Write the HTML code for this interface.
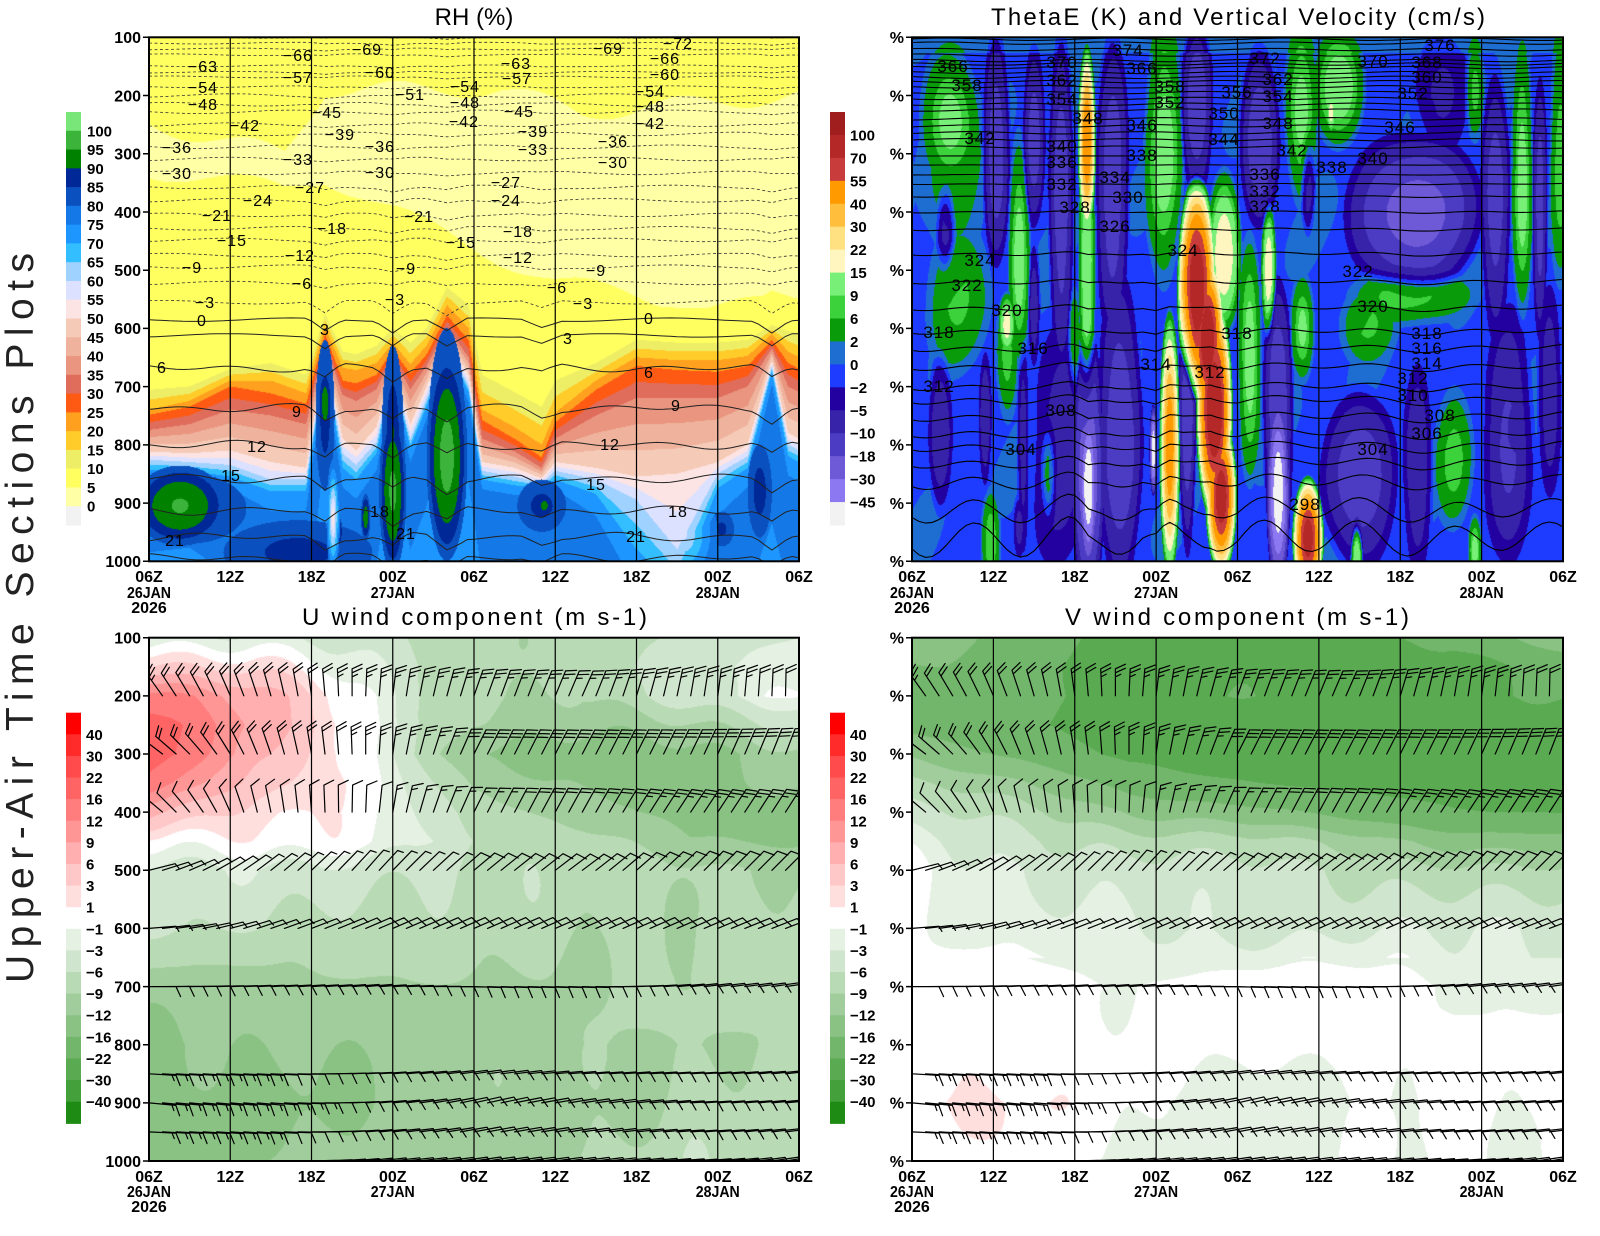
<!DOCTYPE html>
<html><head><meta charset="utf-8"><title>Upper-Air Time Sections Plots</title>
<style>
html,body{margin:0;padding:0;background:#fff;}
#wrap{position:relative;width:1600px;height:1236px;overflow:hidden;background:#fff;}
canvas{position:absolute;display:block;}
#ov{position:absolute;left:0;top:0;}
text{font-family:"Liberation Sans",Arial,sans-serif;fill:#000;}
.axe{font-weight:bold;font-size:16px;text-anchor:end;}
.axm{font-weight:bold;font-size:16px;text-anchor:middle;}
.cb{font-weight:bold;font-size:15px;}
.ttl{font-size:24px;text-anchor:middle;}
.lr{font-size:16px;letter-spacing:1px;text-anchor:middle;}
.lt{font-size:17px;letter-spacing:1px;text-anchor:middle;}
</style></head><body><div id="wrap">
<canvas id="c1" width="650" height="524" style="left:149px;top:37px;width:650px;height:524px"></canvas>
<canvas id="c2" width="651" height="524" style="left:912px;top:37px;width:651px;height:524px"></canvas>
<canvas id="c3" width="650" height="523" style="left:149px;top:638px;width:650px;height:523px"></canvas>
<canvas id="c4" width="651" height="523" style="left:912px;top:638px;width:651px;height:523px"></canvas>
<svg id="ov" width="1600" height="1236" viewBox="0 0 1600 1236" xmlns="http://www.w3.org/2000/svg">
<defs>
<clipPath id="k1"><rect x="149" y="37.3" width="650" height="524"/></clipPath>
<clipPath id="k2"><rect x="912" y="37.3" width="651" height="524"/></clipPath>
<clipPath id="k3"><rect x="149" y="637.7" width="650" height="523.3"/></clipPath>
<clipPath id="k4"><rect x="912" y="637.7" width="651" height="523.3"/></clipPath>
</defs>
<g id="gfx"></g>
<g id="txt">
<text transform="translate(33,983) rotate(-90)" font-size="39" textLength="730" lengthAdjust="spacing" style="fill:#222">Upper-Air Time Sections Plots</text>
<text class="ttl" x="474" y="25">RH (%)</text>
<text class="ttl" x="1238" y="25" textLength="494" lengthAdjust="spacing">ThetaE (K) and Vertical Velocity (cm/s)</text>
<text class="ttl" x="474.5" y="625" textLength="345" lengthAdjust="spacing">U wind component (m s-1)</text>
<text class="ttl" x="1237" y="625" textLength="344" lengthAdjust="spacing">V wind component (m s-1)</text>

<text class="axe" x="141" y="43.1">100</text><text class="axe" x="141" y="101.3">200</text><text class="axe" x="141" y="159.5">300</text><text class="axe" x="141" y="217.8">400</text><text class="axe" x="141" y="276">500</text><text class="axe" x="141" y="334.2">600</text><text class="axe" x="141" y="392.4">700</text><text class="axe" x="141" y="450.6">800</text><text class="axe" x="141" y="508.9">900</text><text class="axe" x="141" y="567.1">1000</text>
<text class="axe" x="141" y="643.5">100</text><text class="axe" x="141" y="701.6">200</text><text class="axe" x="141" y="759.6">300</text><text class="axe" x="141" y="817.8">400</text><text class="axe" x="141" y="876">500</text><text class="axe" x="141" y="934.2">600</text><text class="axe" x="141" y="992.3">700</text><text class="axe" x="141" y="1050.4">800</text><text class="axe" x="141" y="1108.6">900</text><text class="axe" x="141" y="1166.8">1000</text>
<text class="axe" x="904" y="43.1">%</text><text class="axe" x="904" y="101.3">%</text><text class="axe" x="904" y="159.5">%</text><text class="axe" x="904" y="217.8">%</text><text class="axe" x="904" y="276">%</text><text class="axe" x="904" y="334.2">%</text><text class="axe" x="904" y="392.4">%</text><text class="axe" x="904" y="450.6">%</text><text class="axe" x="904" y="508.9">%</text><text class="axe" x="904" y="567.1">%</text>
<text class="axe" x="904" y="643.5">%</text><text class="axe" x="904" y="701.6">%</text><text class="axe" x="904" y="759.6">%</text><text class="axe" x="904" y="817.8">%</text><text class="axe" x="904" y="876">%</text><text class="axe" x="904" y="934.2">%</text><text class="axe" x="904" y="992.3">%</text><text class="axe" x="904" y="1050.4">%</text><text class="axe" x="904" y="1108.6">%</text><text class="axe" x="904" y="1166.8">%</text>

<text class="axm" x="149" y="582">06Z</text><text class="axm" x="230.25" y="582">12Z</text><text class="axm" x="311.5" y="582">18Z</text><text class="axm" x="392.75" y="582">00Z</text><text class="axm" x="474" y="582">06Z</text><text class="axm" x="555.25" y="582">12Z</text><text class="axm" x="636.5" y="582">18Z</text><text class="axm" x="717.75" y="582">00Z</text><text class="axm" x="799" y="582">06Z</text>
<text class="axm" x="149" y="598" textLength="44" lengthAdjust="spacingAndGlyphs">26JAN</text><text class="axm" x="392.75" y="598" textLength="44" lengthAdjust="spacingAndGlyphs">27JAN</text><text class="axm" x="717.75" y="598" textLength="44" lengthAdjust="spacingAndGlyphs">28JAN</text><text class="axm" x="149" y="613">2026</text>
<text class="axm" x="912" y="582">06Z</text><text class="axm" x="993.4" y="582">12Z</text><text class="axm" x="1074.75" y="582">18Z</text><text class="axm" x="1156.1" y="582">00Z</text><text class="axm" x="1237.5" y="582">06Z</text><text class="axm" x="1318.9" y="582">12Z</text><text class="axm" x="1400.25" y="582">18Z</text><text class="axm" x="1481.6" y="582">00Z</text><text class="axm" x="1563" y="582">06Z</text>
<text class="axm" x="912" y="598" textLength="44" lengthAdjust="spacingAndGlyphs">26JAN</text><text class="axm" x="1156.1" y="598" textLength="44" lengthAdjust="spacingAndGlyphs">27JAN</text><text class="axm" x="1481.6" y="598" textLength="44" lengthAdjust="spacingAndGlyphs">28JAN</text><text class="axm" x="912" y="613">2026</text>
<text class="axm" x="149" y="1182">06Z</text><text class="axm" x="230.25" y="1182">12Z</text><text class="axm" x="311.5" y="1182">18Z</text><text class="axm" x="392.75" y="1182">00Z</text><text class="axm" x="474" y="1182">06Z</text><text class="axm" x="555.25" y="1182">12Z</text><text class="axm" x="636.5" y="1182">18Z</text><text class="axm" x="717.75" y="1182">00Z</text><text class="axm" x="799" y="1182">06Z</text>
<text class="axm" x="149" y="1197" textLength="44" lengthAdjust="spacingAndGlyphs">26JAN</text><text class="axm" x="392.75" y="1197" textLength="44" lengthAdjust="spacingAndGlyphs">27JAN</text><text class="axm" x="717.75" y="1197" textLength="44" lengthAdjust="spacingAndGlyphs">28JAN</text><text class="axm" x="149" y="1212">2026</text>
<text class="axm" x="912" y="1182">06Z</text><text class="axm" x="993.4" y="1182">12Z</text><text class="axm" x="1074.75" y="1182">18Z</text><text class="axm" x="1156.1" y="1182">00Z</text><text class="axm" x="1237.5" y="1182">06Z</text><text class="axm" x="1318.9" y="1182">12Z</text><text class="axm" x="1400.25" y="1182">18Z</text><text class="axm" x="1481.6" y="1182">00Z</text><text class="axm" x="1563" y="1182">06Z</text>
<text class="axm" x="912" y="1197" textLength="44" lengthAdjust="spacingAndGlyphs">26JAN</text><text class="axm" x="1156.1" y="1197" textLength="44" lengthAdjust="spacingAndGlyphs">27JAN</text><text class="axm" x="1481.6" y="1197" textLength="44" lengthAdjust="spacingAndGlyphs">28JAN</text><text class="axm" x="912" y="1212">2026</text>

<text class="cb" x="87" y="136.3">100</text><text class="cb" x="87" y="155">95</text><text class="cb" x="87" y="173.8">90</text><text class="cb" x="87" y="192.6">85</text><text class="cb" x="87" y="211.4">80</text><text class="cb" x="87" y="230.1">75</text><text class="cb" x="87" y="248.9">70</text><text class="cb" x="87" y="267.7">65</text><text class="cb" x="87" y="286.5">60</text><text class="cb" x="87" y="305.2">55</text><text class="cb" x="87" y="324">50</text><text class="cb" x="87" y="342.8">45</text><text class="cb" x="87" y="361.5">40</text><text class="cb" x="87" y="380.3">35</text><text class="cb" x="87" y="399.1">30</text><text class="cb" x="87" y="417.9">25</text><text class="cb" x="87" y="436.6">20</text><text class="cb" x="87" y="455.4">15</text><text class="cb" x="87" y="474.2">10</text><text class="cb" x="87" y="493">5</text><text class="cb" x="87" y="511.7">0</text>
<text class="cb" x="850" y="140.4">100</text><text class="cb" x="850" y="163.4">70</text><text class="cb" x="850" y="186.3">55</text><text class="cb" x="850" y="209.3">40</text><text class="cb" x="850" y="232.2">30</text><text class="cb" x="850" y="255.2">22</text><text class="cb" x="850" y="278.1">15</text><text class="cb" x="850" y="301.1">9</text><text class="cb" x="850" y="324">6</text><text class="cb" x="850" y="346.9">2</text><text class="cb" x="850" y="369.9">0</text><text class="cb" x="850" y="392.8">−2</text><text class="cb" x="850" y="415.8">−5</text><text class="cb" x="850" y="438.7">−10</text><text class="cb" x="850" y="461.7">−18</text><text class="cb" x="850" y="484.6">−30</text><text class="cb" x="850" y="507.6">−45</text>
<text class="cb" x="86" y="739.8">40</text><text class="cb" x="86" y="761.4">30</text><text class="cb" x="86" y="783">22</text><text class="cb" x="86" y="804.6">16</text><text class="cb" x="86" y="826.3">12</text><text class="cb" x="86" y="847.9">9</text><text class="cb" x="86" y="869.5">6</text><text class="cb" x="86" y="891.1">3</text><text class="cb" x="86" y="912.7">1</text><text class="cb" x="86" y="934.3">−1</text><text class="cb" x="86" y="955.9">−3</text><text class="cb" x="86" y="977.5">−6</text><text class="cb" x="86" y="999.1">−9</text><text class="cb" x="86" y="1020.7">−12</text><text class="cb" x="86" y="1042.4">−16</text><text class="cb" x="86" y="1064">−22</text><text class="cb" x="86" y="1085.6">−30</text><text class="cb" x="86" y="1107.2">−40</text>
<text class="cb" x="850" y="739.8">40</text><text class="cb" x="850" y="761.4">30</text><text class="cb" x="850" y="783">22</text><text class="cb" x="850" y="804.6">16</text><text class="cb" x="850" y="826.3">12</text><text class="cb" x="850" y="847.9">9</text><text class="cb" x="850" y="869.5">6</text><text class="cb" x="850" y="891.1">3</text><text class="cb" x="850" y="912.7">1</text><text class="cb" x="850" y="934.3">−1</text><text class="cb" x="850" y="955.9">−3</text><text class="cb" x="850" y="977.5">−6</text><text class="cb" x="850" y="999.1">−9</text><text class="cb" x="850" y="1020.7">−12</text><text class="cb" x="850" y="1042.4">−16</text><text class="cb" x="850" y="1064">−22</text><text class="cb" x="850" y="1085.6">−30</text><text class="cb" x="850" y="1107.2">−40</text>

<text class="lr" x="203" y="72">−63</text><text class="lr" x="203" y="93">−54</text><text class="lr" x="203" y="110">−48</text><text class="lr" x="245" y="131">−42</text><text class="lr" x="298" y="61">−66</text><text class="lr" x="298" y="83">−57</text><text class="lr" x="327" y="118">−45</text><text class="lr" x="340" y="140">−39</text><text class="lr" x="367" y="55">−69</text><text class="lr" x="380" y="78">−60</text><text class="lr" x="177" y="153">−36</text><text class="lr" x="177" y="179">−30</text><text class="lr" x="298" y="165">−33</text><text class="lr" x="380" y="152">−36</text><text class="lr" x="380" y="178">−30</text><text class="lr" x="310" y="193">−27</text><text class="lr" x="258" y="206">−24</text><text class="lr" x="217" y="221">−21</text><text class="lr" x="332" y="234">−18</text><text class="lr" x="232" y="246">−15</text><text class="lr" x="300" y="261">−12</text><text class="lr" x="192" y="273">−9</text><text class="lr" x="302" y="289">−6</text><text class="lr" x="205" y="308">−3</text><text class="lr" x="202" y="326">0</text><text class="lr" x="162" y="373">6</text><text class="lr" x="325" y="335">3</text><text class="lr" x="297" y="417">9</text><text class="lr" x="257" y="452">12</text><text class="lr" x="231" y="481">15</text><text class="lr" x="380" y="517">18</text><text class="lr" x="175" y="546">21</text><text class="lr" x="406" y="539">21</text><text class="lr" x="395" y="305">−3</text><text class="lr" x="583" y="309">−3</text><text class="lr" x="649" y="324">0</text><text class="lr" x="568" y="344">3</text><text class="lr" x="649" y="378">6</text><text class="lr" x="676" y="411">9</text><text class="lr" x="610" y="450">12</text><text class="lr" x="596" y="490">15</text><text class="lr" x="678" y="517">18</text><text class="lr" x="636" y="542">21</text><text class="lr" x="406" y="274">−9</text><text class="lr" x="419" y="222">−21</text><text class="lr" x="410" y="100">−51</text><text class="lr" x="465" y="92">−54</text><text class="lr" x="465" y="108">−48</text><text class="lr" x="464" y="127">−42</text><text class="lr" x="461" y="248">−15</text><text class="lr" x="516" y="69">−63</text><text class="lr" x="517" y="84">−57</text><text class="lr" x="519" y="117">−45</text><text class="lr" x="533" y="137">−39</text><text class="lr" x="533" y="155">−33</text><text class="lr" x="506" y="188">−27</text><text class="lr" x="506" y="206">−24</text><text class="lr" x="518" y="237">−18</text><text class="lr" x="518" y="263">−12</text><text class="lr" x="608" y="54">−69</text><text class="lr" x="678" y="49">−72</text><text class="lr" x="665" y="64">−66</text><text class="lr" x="665" y="80">−60</text><text class="lr" x="650" y="97">−54</text><text class="lr" x="650" y="112">−48</text><text class="lr" x="650" y="129">−42</text><text class="lr" x="613" y="147">−36</text><text class="lr" x="613" y="168">−30</text><text class="lr" x="596" y="276">−9</text><text class="lr" x="557" y="293">−6</text>

<text class="lt" x="953" y="72">366</text><text class="lt" x="967" y="91">358</text><text class="lt" x="980" y="144">342</text><text class="lt" x="1062" y="68">370</text><text class="lt" x="1062" y="86">362</text><text class="lt" x="1062" y="105">354</text><text class="lt" x="1062" y="152">340</text><text class="lt" x="1062" y="168">336</text><text class="lt" x="1062" y="190">332</text><text class="lt" x="1075" y="213">328</text><text class="lt" x="1088" y="124">348</text><text class="lt" x="1128" y="56">374</text><text class="lt" x="1142" y="74">366</text><text class="lt" x="1142" y="131">346</text><text class="lt" x="1142" y="161">338</text><text class="lt" x="1115" y="183">334</text><text class="lt" x="1128" y="203">330</text><text class="lt" x="1115" y="232">326</text><text class="lt" x="980" y="266">324</text><text class="lt" x="967" y="291">322</text><text class="lt" x="1007" y="316">320</text><text class="lt" x="1170" y="92">358</text><text class="lt" x="1170" y="108">352</text><text class="lt" x="1183" y="256">324</text><text class="lt" x="939" y="338">318</text><text class="lt" x="1033" y="354">316</text><text class="lt" x="1156" y="370">314</text><text class="lt" x="939" y="392">312</text><text class="lt" x="1061" y="416">308</text><text class="lt" x="1021" y="455">304</text><text class="lt" x="1265" y="64">372</text><text class="lt" x="1373" y="67">370</text><text class="lt" x="1440" y="51">376</text><text class="lt" x="1427" y="68">368</text><text class="lt" x="1427" y="83">360</text><text class="lt" x="1413" y="99">352</text><text class="lt" x="1278" y="85">362</text><text class="lt" x="1278" y="102">354</text><text class="lt" x="1237" y="98">356</text><text class="lt" x="1224" y="119">350</text><text class="lt" x="1278" y="129">348</text><text class="lt" x="1224" y="145">344</text><text class="lt" x="1400" y="133">346</text><text class="lt" x="1292" y="156">342</text><text class="lt" x="1373" y="164">340</text><text class="lt" x="1332" y="173">338</text><text class="lt" x="1265" y="180">336</text><text class="lt" x="1265" y="197">332</text><text class="lt" x="1265" y="212">328</text><text class="lt" x="1358" y="277">322</text><text class="lt" x="1373" y="312">320</text><text class="lt" x="1237" y="339">318</text><text class="lt" x="1427" y="339">318</text><text class="lt" x="1427" y="354">316</text><text class="lt" x="1427" y="369">314</text><text class="lt" x="1413" y="384">312</text><text class="lt" x="1413" y="401">310</text><text class="lt" x="1440" y="421">308</text><text class="lt" x="1427" y="439">306</text><text class="lt" x="1373" y="455">304</text><text class="lt" x="1210" y="378">312</text><text class="lt" x="1305" y="510">298</text>
</g>
</svg>
</div>
<script>
(function(){
var NS='http://www.w3.org/2000/svg';
var G=document.getElementById('gfx');
function el(tag,a,par){var e=document.createElementNS(NS,tag);for(var k in a)e.setAttribute(k,a[k]);(par||G).appendChild(e);return e;}
function interp1(xs,ys,x){var n=xs.length;if(x<=xs[0])return ys[0];if(x>=xs[n-1])return ys[n-1];var i=1;while(x>xs[i])i++;var f=(x-xs[i-1])/(xs[i]-xs[i-1]);return ys[i-1]+(ys[i]-ys[i-1])*f;}
function tri(t,c,w){return Math.max(0,1-Math.abs(t-c)/w);}
function hex(c){return [parseInt(c.slice(1,3),16),parseInt(c.slice(3,5),16),parseInt(c.slice(5,7),16)];}
function cmap(lv,cols){var cs=cols.map(hex);return function(v){var k=0;while(k<lv.length&&v>=lv[k])k++;return cs[k];};}
function paint(id,fn,cm){var cv=document.getElementById(id);var W=cv.width,H=cv.height;var ctx=cv.getContext('2d');var img=ctx.createImageData(W,H);var d=img.data;
 for(var j=0;j<H;j++){var p=100+(j+0.5)/H*900;for(var i=0;i<W;i++){var t=(i+0.5)/W*48;var c=cm(fn(t,p));var o=(j*W+i)*4;d[o]=c[0];d[o+1]=c[1];d[o+2]=c[2];d[o+3]=255;}}
 ctx.putImageData(img,0,0);}

/* ---------- colour tables ---------- */
var RHlv=[];for(var q=0;q<=20;q++)RHlv.push(q*5);
var RHc=['#f2f2f2','#ffffa5','#ffff60','#eeee66','#ffcc2a','#ffa01e','#ff5a14','#e06c5c','#e9957f','#efb39d','#f5cbb7','#fde4e4','#dce1ff','#a0d2ff','#32beff','#1e96ff','#1478e6','#0a50be','#002896','#008200','#3cb43c','#78e678'];
var Wlv=[-45,-30,-18,-10,-5,-2,0,2,6,9,15,22,30,40,55,70,100];
var Wc=['#f2f2f2','#8c78f0','#6e5ad7','#4b3cc3','#3623aa','#2300a0','#1e3cff','#1e6ed2','#0a9b0a','#3cd23c','#78f078','#fff5be','#ffe182','#ffbe3c','#ff9b00','#c83c3c','#b42828','#a01e1e'];
var UVlv=[-40,-30,-22,-16,-12,-9,-6,-3,-1,1,3,6,9,12,16,22,30,40];
var UVc=['#1e8c14','#43a03a','#5aaa52','#72b66b','#8ac284','#a0cd9b','#b8dab4','#d0e5cd','#e5f1e3','#ffffff','#ffdede','#ffc8c8','#ffafaf','#ff9696','#ff7d7d','#ff6464','#ff4b4b','#ff2a2a','#ff0000'];

/* ---------- RH field ---------- */
var RHk=[10,20,25,35,50,60,70,76,78];
var RHn=[
[0,[706,740,749,775,812,826,843,863,880]],
[3,[700,725,735,765,815,830,845,858,872]],
[6,[670,690,700,740,810,835,855,880,920]],
[9,[660,690,712,750,830,860,880,920,990]],
[11.6,[680,712,730,765,840,860,880,920,1000]],
[13,[575,598,610,625,640,650,660,675,700]],
[14.3,[640,668,690,715,790,815,840,880,960]],
[15.3,[645,672,695,725,810,835,860,900,980]],
[16.8,[630,660,680,705,770,795,815,850,900]],
[18,[600,625,637,650,665,672,680,695,720]],
[19.3,[625,662,678,705,765,790,805,835,875]],
[20.5,[600,630,645,665,700,720,735,760,800]],
[22,[530,560,578,598,618,628,638,652,668]],
[23.6,[560,600,620,650,680,698,710,730,760]],
[24.6,[680,740,758,790,830,845,860,880,920]],
[27,[710,770,790,812,840,855,870,890,930]],
[29,[735,800,822,840,858,866,875,885,895]],
[30,[690,745,762,790,830,845,860,880,920]],
[33,[660,690,706,750,840,860,885,930,1000]],
[36,[620,650,665,720,855,895,980,1060,1120]],
[39,[625,655,672,720,850,980,1050,1100,1150]],
[42,[625,655,675,720,830,850,875,930,1000]],
[44.2,[620,648,665,700,800,820,840,880,950]],
[46,[595,610,620,635,655,665,675,700,830]],
[47.2,[605,640,660,700,780,800,820,860,940]],
[48,[610,650,670,710,790,810,830,870,960]]];
function rhThr(t){var i=0;while(i<RHn.length-2&&t>RHn[i+1][0])i++;var a=RHn[i],b=RHn[i+1];var f=Math.max(0,Math.min(1,(t-a[0])/(b[0]-a[0])));var r=[];for(var k=0;k<9;k++)r.push(a[1][k]+(b[1][k]-a[1][k])*f);return r;}
function upRH(t,p){var top=interp1([0,10,13,26,32,48],[250,300,190,190,230,200],t)+15*Math.sin(0.6*t);var bot=interp1([0,10,13,20,26,30,40,48],[330,360,340,420,480,520,560,560],t)+15*Math.sin(0.5*t+1);return (p>top&&p<bot)?3:7;}
var RHg=[
[2.3,905,3.5,70,95.5,16,2],[3,910,4.2,60,89,9,1],[13,730,0.5,60,93,13,2],[13,750,0.7,130,90,10,1],
[18,880,1.0,140,96,16,2],[18,780,0.8,150,91,11,1],[16.0,925,0.35,40,93,13,2],[14.0,950,0.3,25,92,12,2],
[22,820,1.5,180,97,17,2],[22,800,1.4,200,91,11,1],[29.2,905,0.6,20,92,12,2],[29,905,1.8,45,89,9,1],
[45.1,880,0.9,80,90,10,1],[42.3,945,0.9,30,88,8,1],[11,985,5.5,55,89,9,1]];
var RHd=[[13.6,925,0.5,100,50],[39.5,955,2.5,90,58]];
function RH(t,p){var th=rhThr(t),v=7,k,m,g,dt,dp,dd,val;
 if(p<th[0])v=Math.max(upRH(t,p),10-(th[0]-p)/12);
 else if(p>=th[8])v=Math.max(70,78-(p-th[8])/35);
 else{for(k=0;k<8;k++){if(p<th[k+1]){v=RHk[k]+(RHk[k+1]-RHk[k])*(p-th[k])/(th[k+1]-th[k]);break;}}}
 for(m=0;m<RHg.length;m++){g=RHg[m];dt=(t-g[0])/g[2];dp=(p-g[1])/g[3];dd=Math.sqrt(dt*dt+dp*dp);val=g[4]-g[5]*Math.pow(dd,g[6]);if(val>=80&&val>v)v=val;}
 for(m=0;m<RHd.length;m++){g=RHd[m];dt=(t-g[0])/g[2];dp=(p-g[1])/g[3];dd=Math.sqrt(dt*dt+dp*dp);if(dd<1)v=Math.min(v,g[4]+(80-g[4])*dd);}
 return v;}

/* ---------- vertical velocity field ---------- */
var WF=[
[2.8,240,2.4,140,11],[3.0,330,2.8,240,4],[6.2,290,1.1,220,-14],[9.0,270,0.9,170,-12],[9.0,560,0.5,120,-8],
[7.9,470,0.9,220,12],[11.0,380,1.0,320,-14],[12.9,280,0.7,170,50],[12.9,520,0.7,330,14],[14.8,360,1.3,300,-13],
[18.6,300,1.6,260,11],[21.0,220,1.3,170,-14],[21.0,530,1.5,200,80],[23.0,470,1.4,150,20],[21.8,620,1.3,150,80],[22.3,740,1.4,200,85],
[22.8,890,1.2,140,75],[19.0,800,0.8,240,45],[20.3,750,0.7,260,-15],[24.9,650,1.0,230,12],[25.6,270,1.6,170,-15],
[26.3,500,0.6,130,20],[27.0,880,0.9,180,-52],[27.0,750,1.2,260,-16],[28.7,230,1.4,170,11],[29.2,350,0.6,100,-8],
[28.8,600,1.0,100,10],[29.2,960,1.2,110,72],[31.5,190,2.2,110,13],[30.9,230,0.4,40,18],[37.0,400,5.5,150,-20],
[36.5,545,5.5,55,7],[33.5,590,2.5,80,6],[33.0,860,3.0,170,-14],[32.8,990,0.5,70,18],[40.0,830,1.6,140,7],
[37.3,850,1.2,200,-9],[41.5,980,0.6,70,12],[44.0,800,2.0,250,-10],[47.0,700,1.0,200,-8],[39.0,200,2.5,120,-5],
[45.0,350,0.9,260,12],[41.5,190,0.8,100,7],[47.8,300,0.9,250,8],[43.0,380,1.2,250,-13],[46.3,400,0.6,250,-12],
[3.3,540,2.8,150,6],[2.1,780,1.0,150,-9],[7.0,595,0.7,60,18],[7.0,650,1.0,120,8],[5.4,760,0.5,130,-8],
[8.2,800,0.5,200,-7],[10.1,850,0.7,100,8],[5.8,970,0.8,100,9],[7.9,940,0.5,60,-6],[12.0,620,0.6,100,8],
[13.0,870,0.7,160,-55],[13.0,850,1.3,260,-25],[15.3,780,1.8,300,-15],[17.8,810,0.3,80,-52],[2.5,430,0.8,90,-7],
[11.0,800,2.5,250,-6]];
function Wfn(t,p){var base=-0.6+1.3*Math.sin(0.7*t+p/70)*Math.cos(0.31*t-p/150);if(p<128)base=1;var pos=0,neg=0;
 for(var m=0;m<WF.length;m++){var f=WF[m];var dt=(t-f[0])/f[2],dp=(p-f[1])/f[3];var dd=dt*dt+dp*dp;if(dd<1){dd=Math.sqrt(dd);var v=f[4]*Math.min(1,1.4*(1-dd));if(v>pos)pos=v;if(v<neg)neg=v;}}
 return base+pos+neg;}

/* ---------- U / V fields ---------- */
var tn=[0,8,16,24,32,40,48],pn=[100,150,200,250,300,350,400,450,500,600,700,800,900,1000];
var UG=[
[-2,-2,-5,-8,-8,-6,-3],
[4,2,-3,-7,-8,-4,-1],
[14,7,-1,-8,-10,-4,0],
[18,8,0,-10,-12,-9,-5],
[18,7,0,-13,-14,-13,-10],
[14,5,0,-10,-12,-13,-12],
[7,2,-0.5,-7,-10,-14,-14],
[0.5,0,-0.5,-5,-8,-12,-12],
[-4,-4,-4,-6,-8,-8,-9],
[-6,-6,-7,-8,-8,-8,-8],
[-10,-10,-10,-9,-9,-9,-8],
[-13,-12,-11,-10,-10,-9,-8],
[-14,-13,-12,-11,-10,-8,-8],
[-13,-12,-11,-10,-9,-7,-7]];
var VG=[
[-13,-18,-24,-25,-24,-20,-12],
[-16,-21,-24,-24,-24,-24,-20],
[-18,-21,-23,-23,-23,-23,-22],
[-17,-21,-26,-27,-27,-27,-26],
[-12,-17,-24,-26,-27,-27,-27],
[-8,-12,-18,-21,-24,-26,-26],
[-5,-8,-12,-14,-18,-21,-22],
[-2.5,-5,-7,-8,-10,-13,-14],
[-1,-3,-4.5,-5,-6,-8,-9],
[-0.5,-2,-3,-3.5,-3.5,-3.5,-3],
[0,-0.5,-0.8,0.3,0.3,-1,-1.2],
[0.3,0.3,-0.5,-0.5,0,-0.5,-1],
[1.3,1.2,-0.8,-2.5,-1.5,-0.5,-0.8],
[0,0.5,-1.2,-1.5,-1.2,-0.5,-1.2]];
function g2(Gd,t,p){var i=0;while(i<tn.length-2&&t>tn[i+1])i++;var j=0;while(j<pn.length-2&&p>pn[j+1])j++;
 var ft=Math.max(0,Math.min(1,(t-tn[i])/(tn[i+1]-tn[i])));var fp=Math.max(0,Math.min(1,(p-pn[j])/(pn[j+1]-pn[j])));
 return (Gd[j][i]*(1-ft)+Gd[j][i+1]*ft)*(1-fp)+(Gd[j+1][i]*(1-ft)+Gd[j+1][i+1]*ft)*fp;}
function nz(t,p){return 1.1*Math.sin(0.55*t+p/70)*Math.sin(0.3*t-p/140)+0.5*Math.sin(0.9*t-p/90+1);}

/* ---------- paint ---------- */
paint('c1',RH,cmap(RHlv,RHc));
paint('c2',Wfn,cmap(Wlv,Wc));
paint('c3',function(t,p){return g2(UG,t,p)+nz(t,p);},cmap(UVlv,UVc));
paint('c4',function(t,p){var a=(p>650)?0.5:0.9;return g2(VG,t,p)+a*nz(t+7,p+40);},cmap(UVlv,UVc));

/* ---------- colour bars ---------- */
function cbar(x,top,h,cols){var n=cols.length;for(var k=0;k<n;k++)el('rect',{x:x,y:(top+k*h).toFixed(2),width:15,height:(h+0.6).toFixed(2),fill:cols[n-1-k]});}
cbar(66,112,413/22,RHc);cbar(830,112,413/18,Wc);cbar(66,712.7,21.61,UVc);cbar(830,712.7,21.61,UVc);

/* ---------- RH temperature contours ---------- */
var T0p=[100,110,120,130,149,160,168,185,200,215,228,250,266,288,309,333,357,380,405,428,448,474,494,522,555,585,612,668,737,800,858,913,958,1000];
var T0v=[-75,-72,-69,-66,-63,-60,-57,-54,-51,-48,-45,-42,-39,-36,-33,-30,-27,-24,-21,-18,-15,-12,-9,-6,-3,0,3,6,9,12,15,18,21,24.5];
function spk(t){return Math.max(tri(t,13,1.3),tri(t,18,1.3),tri(t,22,1.5),tri(t,46,1.3),0.6*tri(t,29,1.5));}
var gr1=el('g',{'clip-path':'url(#k1)'});
for(var L=-75;L<=24;L+=3){var pL=interp1(T0v,T0p,L);var d='';
 for(var s=0;s<=96;s++){var t=s*0.5;var amp=pL<200?1.5:3;
  var dl=amp*Math.sin(0.45*t+L*0.7)+(pL>540?20:(pL>350?6:2))*spk(t)+(pL>650?5*Math.sin(0.8*t+L):0);
  var x=149+t*650/48,y=37.3+(pL+dl-100)/900*524;d+=(s?'L':'M')+x.toFixed(1)+' '+y.toFixed(1);}
 var at={d:d,fill:'none',stroke:L<0?'#333':'#222','stroke-width':L<0?0.8:1};if(L<0)at['stroke-dasharray']='3 2.5';el('path',at,gr1);}

/* ---------- ThetaE contours ---------- */
var THp=[100,110,121,140,152,165,180,195,210,225,240,255,270,285,300,315,340,360,380,400,420,460,520,565,605,634,666,700,723,752,780,803,831,863,911,960,1000];
var THv=[379,376,374,370,366,363,359,356,353,350,348,345.5,343,340.5,338.5,336.5,333.5,331,329.5,328,326.5,324.5,322,320,318,316,314,312,310,308,306,304,302,300,298,296,294];
var THva=THv.slice().reverse(),THpa=THp.slice().reverse();
var gr2=el('g',{'clip-path':'url(#k2)'});
for(var L2=296;L2<=378;L2+=2){var pL2=interp1(THva,THpa,L2);var d2='';
 for(var s2=0;s2<=96;s2++){var t2=s2*0.5;var dl2;
  if(pL2<300)dl2=2*Math.sin(0.5*t2+pL2/30);
  else{var f=(pL2-300)/700;dl2=f*(10*Math.sin(0.85*t2+1)+6*Math.sin(0.37*t2))+f*15*(tri(t2,13,1.2)+tri(t2,18,1))-f*18*tri(t2,22,2);if(pL2>840)dl2+=30*Math.sin(0.9*t2+0.5)*(pL2-840)/160;}
  var x2=912+t2*651/48,y2=37.3+(pL2+dl2-100)/900*524;d2+=(s2?'L':'M')+x2.toFixed(1)+' '+y2.toFixed(1);}
 el('path',{d:d2,fill:'none',stroke:'#000','stroke-width':1.1},gr2);}

/* ---------- grid, ticks ---------- */
function decor(x0,y0,W,H){var d='';for(var k=1;k<8;k++){var x=x0+k*W/8;d+='M'+x.toFixed(2)+' '+y0+'V'+(y0+H);}
 el('path',{d:d,stroke:'#000','stroke-width':1.2,fill:'none'});
 var dt='';for(var q=0;q<10;q++){var y=y0+q*H/9;dt+='M'+(x0-6)+' '+y.toFixed(2)+'H'+x0;}
 el('path',{d:dt,stroke:'#000','stroke-width':1.5,fill:'none'});}
decor(149,37.3,650,524);decor(912,37.3,651,524);decor(149,637.7,650,523.3);decor(912,637.7,651,523.3);

/* ---------- wind barbs ---------- */
var levs=[200,300,400,500,600,700,850,900,950,1000];
var cA=Math.cos(65*Math.PI/180),sA=Math.sin(65*Math.PI/180);
function barbs(x0,W,clip){var g=el('g',{'clip-path':'url(#'+clip+')'});var d='';
 for(var i=0;i<=48;i++){var x=x0+i*W/48;
  for(var q=0;q<levs.length;q++){var p=levs[q];var y=637.7+(p-100)/900*523.3;var u=g2(UG,i,p),v=g2(VG,i,p);var sp=Math.sqrt(u*u+v*v);if(sp<2.5)continue;
   var dx=-u/sp,dy=v/sp,Ls=27;var tx=x+dx*Ls,ty=y+dy*Ls;
   d+='M'+x.toFixed(1)+' '+y.toFixed(1)+'L'+tx.toFixed(1)+' '+ty.toFixed(1);
   var fx=dx*cA-dy*sA,fy=dx*sA+dy*cA;var s5=Math.round(sp/5)*5;var nf=Math.floor(s5/10),nh=(s5%10)>=5?1:0;
   for(var k=0;k<nf;k++){var bx=tx-dx*4*k,by=ty-dy*4*k;d+='M'+bx.toFixed(1)+' '+by.toFixed(1)+'l'+(fx*11).toFixed(1)+' '+(fy*11).toFixed(1);}
   if(nh){var hx=tx-dx*4*nf,hy=ty-dy*4*nf;d+='M'+hx.toFixed(1)+' '+hy.toFixed(1)+'l'+(fx*6).toFixed(1)+' '+(fy*6).toFixed(1);}
  }}
 el('path',{d:d,fill:'none',stroke:'#000','stroke-width':1.2,'stroke-linecap':'round'},g);}
barbs(149,650,'k3');barbs(912,651,'k4');

/* ---------- frames ---------- */
el('rect',{x:149,y:37.3,width:650,height:524,fill:'none',stroke:'#000','stroke-width':2});
el('rect',{x:912,y:37.3,width:651,height:524,fill:'none',stroke:'#000','stroke-width':2});
el('rect',{x:149,y:637.7,width:650,height:523.3,fill:'none',stroke:'#000','stroke-width':2});
el('rect',{x:912,y:637.7,width:651,height:523.3,fill:'none',stroke:'#000','stroke-width':2});
})();
</script>
</body></html>
